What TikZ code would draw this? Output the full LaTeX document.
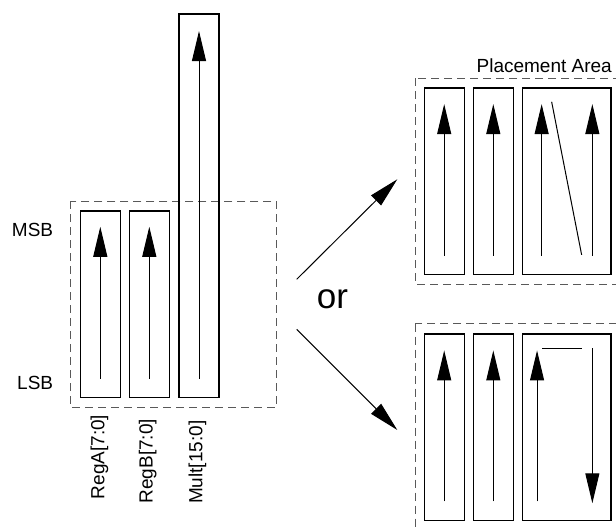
\documentclass[tikz,border=0pt]{standalone}
\usepackage{fontspec}
\setmainfont{Liberation Sans}
\usetikzlibrary{arrows.meta,positioning}

\tikzset{
  reg/.style={draw,line width=1.3pt,inner sep=0pt,minimum width=40pt,minimum height=186.5pt},
  regwide/.style={reg,minimum width=88.3pt},
  area/.style={draw=black!65,line width=1pt,dash pattern=on 8pt off 5pt},
  bit/.style={-{Triangle[length=30pt,width=14pt]},line width=1pt},
  lbl/.style={inner sep=0pt,font=\fontsize{19pt}{22pt}\selectfont},
}

\begin{document}
\begin{tikzpicture}[x=1pt,y=-1pt]
  \useasboundingbox (0,0) rectangle (616,527);
  \clip (0,0) rectangle (616,527);

  % registers before placement
  \draw[area] (70.7,201) rectangle (276.7,407.3);
  \node[reg] (regA) at (100.3,304.35) {};
  \node[reg] (regB) at (149.3,304.35) {};
  \node[reg,minimum height=383.7pt] (mult) at (199,205.85) {};
  \draw[bit] ([yshift=19.7pt]regA.south) -- ([yshift=-16.3pt]regA.north);
  \draw[bit] ([yshift=19.7pt]regB.south) -- ([yshift=-16.3pt]regB.north);
  \draw[bit] ([yshift=19.7pt]mult.south) -- ([yshift=-17.7pt]mult.north);

  \node[lbl,anchor=base east] (msb) at (53.3,236.7) {MSB};
  \node[lbl,anchor=base east] (lsb) at (53.3,389) {LSB};
  \node[lbl,rotate=90,anchor=east] (labA) at ([xshift=-0.8pt,yshift=-16.3pt]regA.south) {RegA[7:0]};
  \node[lbl,rotate=90,anchor=east] (labB) at ([xshift=-1.6pt,yshift=-20.5pt]regB.south) {RegB[7:0]};
  \node[lbl,rotate=90,anchor=east] (labM) at ([xshift=-1.5pt,yshift=-22pt]mult.south) {Mult[15:0]};

  % the two possible placements
  \node[inner sep=0pt,anchor=base,font=\fontsize{35pt}{40pt}\selectfont] (or) at (332.5,308.3) {or};
  \coordinate (forkA) at (296.7,279.3);
  \coordinate (forkB) at (296.7,329.3);
  \coordinate (tipA) at (397.3,179.3);
  \coordinate (tipB) at (397.3,430);
  \draw[bit] (forkA) -- (tipA);
  \draw[bit] (forkB) -- (tipB);

  % placement 1: wide register folded with a diagonal return
  \draw[area] (415,78.3) rectangle (650,284.3);
  \node[lbl,anchor=base east] (plc) at (612,73) {Placement Area};
  \node[reg] (pA1) at (444.2,181.3) {};
  \node[reg] (pA2) at (493.3,181.3) {};
  \node[regwide] (pA3) at (566.85,181.3) {};
  \draw[bit] ([yshift=19.3pt]pA1.south) -- ([yshift=-16.7pt]pA1.north);
  \draw[bit] ([yshift=19.3pt]pA2.south) -- ([yshift=-16.7pt]pA2.north);
  \draw[bit] ([xshift=19.6pt,yshift=19.3pt]pA3.south west) -- ([xshift=19.6pt,yshift=-16.7pt]pA3.north west);
  \draw[bit] ([xshift=-19.3pt,yshift=19.3pt]pA3.south east) -- ([xshift=-19.3pt,yshift=-16.7pt]pA3.north east);
  \draw[line width=1pt] ([xshift=29.6pt,yshift=-14.4pt]pA3.north west) -- ([xshift=59.6pt,yshift=20.3pt]pA3.south west);

  % placement 2: wide register folded back downwards
  \draw[area] (415,323.5) rectangle (650,560);
  \node[reg] (pB1) at (444.2,427.35) {};
  \node[reg] (pB2) at (493.3,427.35) {};
  \node[regwide] (pB3) at (566.85,427.35) {};
  \draw[bit] ([yshift=20pt]pB1.south) -- ([yshift=-17pt]pB1.north);
  \draw[bit] ([yshift=20pt]pB2.south) -- ([yshift=-17pt]pB2.north);
  \draw[bit] ([xshift=15pt,yshift=20pt]pB3.south west) -- ([xshift=15pt,yshift=-17pt]pB3.north west);
  \draw[line width=1pt] ([xshift=20pt,yshift=-15pt]pB3.north west) -- ([xshift=59.6pt,yshift=-15pt]pB3.north west);
  \draw[bit] ([xshift=-19.3pt,yshift=-15pt]pB3.north east) -- ([xshift=-19.3pt,yshift=18pt]pB3.south east);
\end{tikzpicture}
\end{document}
